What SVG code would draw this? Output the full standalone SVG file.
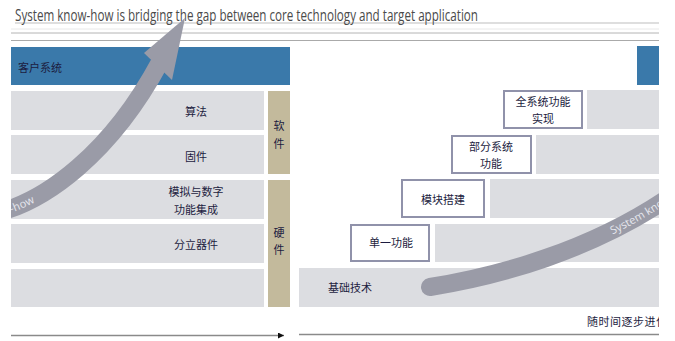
<svg xmlns="http://www.w3.org/2000/svg" width="675" height="341" viewBox="0 0 675 341">
<defs>
<style>
.row{fill:#dcdde1}
.blue{fill:#3a79aa}
.tan{fill:#c3ba9c}
.box{fill:#ffffff;stroke:#9092aa;stroke-width:2}
.cn{font-family:"Noto Sans CJK SC","Noto Sans",sans-serif;font-size:11px;fill:#1c1c40;text-anchor:middle}
.cnl{font-family:"Noto Sans CJK SC","Noto Sans",sans-serif;font-size:11px;fill:#1c1c40}
.band{fill:none;stroke:#9a9ba7;stroke-width:18}
.bt{font-family:"Open Sans","Liberation Sans",sans-serif;font-size:11px;fill:#e6e7ee}
.rule{stroke-width:1;fill:none}
</style>
<clipPath id="clipL"><rect x="11" y="0" width="300" height="341"/></clipPath>
<clipPath id="clipR"><rect x="0" y="0" width="659" height="341"/></clipPath>
<marker id="ah" markerWidth="8" markerHeight="8" refX="6" refY="3" orient="auto" markerUnits="userSpaceOnUse"><path d="M0,0 L6,3 L0,6 Z" fill="#111"/></marker>
<path id="pl" d="M0,212 C45,200 110,155 160,62"/>
<path id="pr" d="M430,287 C500,276 590,250 665,200"/>
</defs>
<rect x="0" y="0" width="675" height="341" fill="#ffffff"/>
<g id="title">
<line class="rule" x1="15" y1="23" x2="659" y2="23" stroke="#bdbdbd"/>
<line class="rule" x1="11" y1="29" x2="659" y2="29" stroke="#e8e8e8"/>
<line class="rule" x1="11" y1="33" x2="659" y2="33" stroke="#b4b4b4"/>
<line class="rule" x1="11" y1="40.5" x2="659" y2="40.5" stroke="#aaaaaa"/>
<text x="15" y="20.5" font-family="'Open Sans','Liberation Sans',sans-serif" font-size="16" fill="#4a4a4a" textLength="463" lengthAdjust="spacingAndGlyphs">System know-how is bridging the gap between core technology and target application</text>
</g>
<g id="left-panel">
<g id="customer-system"><rect class="blue" x="11" y="47" width="279" height="38"/><text class="cnl" x="18" y="72">客户系统</text></g>
<g id="algorithm"><rect class="row" x="11" y="91" width="253" height="39"/><text class="cn" x="196" y="116">算法</text></g>
<g id="firmware"><rect class="row" x="11" y="135" width="253" height="39"/><text class="cn" x="196" y="161">固件</text></g>
<g id="analog-digital"><rect class="row" x="11" y="180" width="253" height="39"/><text class="cn" x="196" y="196">模拟与数字</text><text class="cn" x="196" y="214">功能集成</text></g>
<g id="discrete"><rect class="row" x="11" y="224" width="253" height="39"/><text class="cn" x="196" y="249">分立器件</text></g>
<g id="left-base"><rect class="row" x="11" y="269" width="253" height="38"/></g>
<g id="software"><rect class="tan" x="268" y="91" width="22" height="83"/><text class="cn" x="279" y="130">软</text><text class="cn" x="279" y="148">件</text></g>
<g id="hardware"><rect class="tan" x="268" y="180" width="22" height="127"/><text class="cn" x="279" y="237">硬</text><text class="cn" x="279" y="254">件</text></g>
</g>
<g id="right-panel" clip-path="url(#clipR)">
<g id="customer-system-right"><rect class="blue" x="637" y="46" width="22" height="39"/></g>
<g id="full-system"><rect class="row" x="587" y="90" width="72" height="39"/><rect class="box" x="504" y="91" width="78" height="37"/><text class="cn" x="543" y="106">全系统功能</text><text class="cn" x="543" y="123">实现</text></g>
<g id="partial-system"><rect class="row" x="536" y="135" width="123" height="39"/><rect class="box" x="452" y="136" width="79" height="37"/><text class="cn" x="491" y="151">部分系统</text><text class="cn" x="491" y="168">功能</text></g>
<g id="module-build"><rect class="row" x="490" y="179" width="169" height="39"/><rect class="box" x="402" y="180" width="82" height="37"/><text class="cn" x="443" y="204">模块搭建</text></g>
<g id="single-function"><rect class="row" x="435" y="224" width="224" height="38"/><rect class="box" x="351" y="225" width="78" height="36"/><text class="cn" x="391" y="247">单一功能</text></g>
<g id="basic-tech"><rect class="row" x="299" y="268" width="360" height="39"/><text class="cnl" x="328" y="292">基础技术</text></g>
<text class="cnl" x="587" y="326" letter-spacing="0.5">随时间逐步进化</text>
</g>
<g id="connectors">
<line x1="11" y1="335.5" x2="284" y2="335.5" stroke="#8a8a8a" stroke-width="1.5" marker-end="url(#ah)"/>
<line x1="299" y1="334.5" x2="659" y2="334.5" stroke="#8a8a8a" stroke-width="1.5"/>
<g id="knowhow-arrow-left" clip-path="url(#clipL)">
<use href="#pl" class="band"/>
<polygon points="185,18 144,53 172,80" fill="#9a9ba7"/>
<text class="bt" dy="4"><textPath href="#pl" startOffset="36" text-anchor="end">System know-how</textPath></text>
</g>
<g id="knowhow-arrow-right" clip-path="url(#clipR)">
<use href="#pr" class="band" stroke-linecap="round"/>
<text class="bt" dy="4"><textPath href="#pr" startOffset="190">System know-how</textPath></text>
</g>
</g>
</svg>
